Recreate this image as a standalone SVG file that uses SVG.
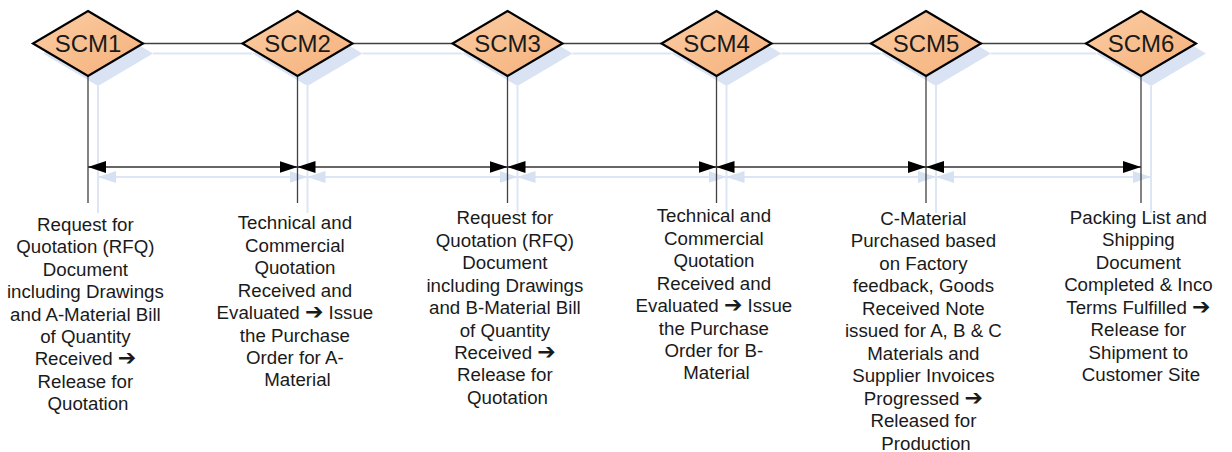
<svg xmlns="http://www.w3.org/2000/svg" width="1232" height="452" viewBox="0 0 1232 452">
  <defs>
    <linearGradient id="og" x1="0" y1="0" x2="1" y2="1">
      <stop offset="0" stop-color="#fbcda4"/>
      <stop offset="1" stop-color="#f5b07a"/>
    </linearGradient>
    <marker id="ah" markerUnits="userSpaceOnUse" markerWidth="18" markerHeight="12" refX="18" refY="6" orient="auto-start-reverse">
      <path d="M0,0 L18,6 L0,12 z" fill="#000"/>
    </marker>
    <marker id="ahs" markerUnits="userSpaceOnUse" markerWidth="18" markerHeight="12" refX="18" refY="6" orient="auto-start-reverse">
      <path d="M0,0 L18,6 L0,12 z" fill="#d6e1f2"/>
    </marker>
    <style>
      .sh { fill: #d9e3f3; }
      .shl { stroke: #dde6f4; stroke-width: 2; fill: none; }
      .ln { stroke: #404040; stroke-width: 1.3; fill: none; }
      .ar { stroke: #333; stroke-width: 1.3; fill: none; marker-start: url(#ah); marker-end: url(#ah); }
      .ars { stroke: #dde6f4; stroke-width: 2; fill: none; marker-start: url(#ahs); marker-end: url(#ahs); }
      .dm { fill: url(#og); stroke: #000; stroke-width: 2.2; stroke-linejoin: miter; }
      .lbl { font-family: "Liberation Sans", Arial, sans-serif; font-size: 24px; fill: #1a1a1a; text-anchor: middle; }
      .txt { font-family: "Liberation Sans", Arial, sans-serif; font-size: 18.7px; fill: #1a1a1a; text-anchor: middle; }
      .arw { font-family: "DejaVu Sans", sans-serif; font-weight: bold; font-size: 22px; }
    </style>
  </defs>

  <rect width="1232" height="452" fill="#fff"/>

  <g id="shadows">
    <polyline class="shl" points="153,53.5 252.5,53.5"/>
    <polyline class="shl" points="362.5,53.5 462.5,53.5"/>
    <polyline class="shl" points="572.5,53.5 671.5,53.5"/>
    <polyline class="shl" points="781.5,53.5 881,53.5"/>
    <polyline class="shl" points="991,53.5 1096,53.5"/>
    <line class="shl" x1="98" y1="86" x2="98" y2="213"/>
    <line class="shl" x1="307.5" y1="86" x2="307.5" y2="213"/>
    <line class="shl" x1="517.5" y1="86" x2="517.5" y2="213"/>
    <line class="shl" x1="726.5" y1="86" x2="726.5" y2="213"/>
    <line class="shl" x1="936" y1="86" x2="936" y2="213"/>
    <line class="shl" x1="1151" y1="86" x2="1151" y2="213"/>
    <line class="ars" x1="98" y1="177" x2="307.5" y2="177"/>
    <line class="ars" x1="307.5" y1="177" x2="517.5" y2="177"/>
    <line class="ars" x1="517.5" y1="177" x2="726.5" y2="177"/>
    <line class="ars" x1="726.5" y1="177" x2="936" y2="177"/>
    <line class="ars" x1="936" y1="177" x2="1151" y2="177"/>
    <polygon class="sh" points="98,21 153,53.5 98,86 43,53.5"/>
    <polygon class="sh" points="307.5,21 362.5,53.5 307.5,86 252.5,53.5"/>
    <polygon class="sh" points="517.5,21 572.5,53.5 517.5,86 462.5,53.5"/>
    <polygon class="sh" points="726.5,21 781.5,53.5 726.5,86 671.5,53.5"/>
    <polygon class="sh" points="936,21 991,53.5 936,86 881,53.5"/>
    <polygon class="sh" points="1151,21 1206,53.5 1151,86 1096,53.5"/>
  </g>

  <g id="connectors">
    <line class="ln" x1="143" y1="43.5" x2="242.5" y2="43.5"/>
    <line class="ln" x1="352.5" y1="43.5" x2="452.5" y2="43.5"/>
    <line class="ln" x1="562.5" y1="43.5" x2="661.5" y2="43.5"/>
    <line class="ln" x1="771.5" y1="43.5" x2="871" y2="43.5"/>
    <line class="ln" x1="981" y1="43.5" x2="1086" y2="43.5"/>
    <line class="ln" x1="88" y1="76" x2="88" y2="203"/>
    <line class="ln" x1="297.5" y1="76" x2="297.5" y2="203"/>
    <line class="ln" x1="507.5" y1="76" x2="507.5" y2="203"/>
    <line class="ln" x1="716.5" y1="76" x2="716.5" y2="203"/>
    <line class="ln" x1="926" y1="76" x2="926" y2="203"/>
    <line class="ln" x1="1141" y1="76" x2="1141" y2="203"/>
    <line class="ar" x1="88" y1="167" x2="297.5" y2="167"/>
    <line class="ar" x1="297.5" y1="167" x2="507.5" y2="167"/>
    <line class="ar" x1="507.5" y1="167" x2="716.5" y2="167"/>
    <line class="ar" x1="716.5" y1="167" x2="926" y2="167"/>
    <line class="ar" x1="926" y1="167" x2="1141" y2="167"/>
  </g>

  <g id="scm1">
    <polygon class="dm" points="88,11 143,43.5 88,76 33,43.5"/>
    <text class="lbl" x="88" y="51.5">SCM1</text>
    <text class="txt" y="230.7">
      <tspan x="88">Request for</tspan>
      <tspan x="88" dy="22.45">Quotation (RFQ)</tspan>
      <tspan x="88" dy="22.45">Document</tspan>
      <tspan x="88" dy="22.45">including Drawings</tspan>
      <tspan x="88" dy="22.45">and A-Material Bill</tspan>
      <tspan x="88" dy="22.45">of Quantity</tspan>
      <tspan x="88" dy="22.45">Received <tspan class="arw">➔</tspan></tspan>
      <tspan x="88" dy="22.45">Release for</tspan>
      <tspan x="88" dy="22.45">Quotation</tspan>
    </text>
  </g>

  <g id="scm2">
    <polygon class="dm" points="297.5,11 352.5,43.5 297.5,76 242.5,43.5"/>
    <text class="lbl" x="297.5" y="51.5">SCM2</text>
    <text class="txt" y="229.3">
      <tspan x="297.5">Technical and</tspan>
      <tspan x="297.5" dy="22.45">Commercial</tspan>
      <tspan x="297.5" dy="22.45">Quotation</tspan>
      <tspan x="297.5" dy="22.45">Received and</tspan>
      <tspan x="297.5" dy="22.45">Evaluated <tspan class="arw">➔</tspan> Issue</tspan>
      <tspan x="297.5" dy="22.45">the Purchase</tspan>
      <tspan x="297.5" dy="22.45">Order for A-</tspan>
      <tspan x="297.5" dy="22.45">Material</tspan>
    </text>
  </g>

  <g id="scm3">
    <polygon class="dm" points="507.5,11 562.5,43.5 507.5,76 452.5,43.5"/>
    <text class="lbl" x="507.5" y="51.5">SCM3</text>
    <text class="txt" y="224.3">
      <tspan x="507.5">Request for</tspan>
      <tspan x="507.5" dy="22.45">Quotation (RFQ)</tspan>
      <tspan x="507.5" dy="22.45">Document</tspan>
      <tspan x="507.5" dy="22.45">including Drawings</tspan>
      <tspan x="507.5" dy="22.45">and B-Material Bill</tspan>
      <tspan x="507.5" dy="22.45">of Quantity</tspan>
      <tspan x="507.5" dy="22.45">Received <tspan class="arw">➔</tspan></tspan>
      <tspan x="507.5" dy="22.45">Release for</tspan>
      <tspan x="507.5" dy="22.45">Quotation</tspan>
    </text>
  </g>

  <g id="scm4">
    <polygon class="dm" points="716.5,11 771.5,43.5 716.5,76 661.5,43.5"/>
    <text class="lbl" x="716.5" y="51.5">SCM4</text>
    <text class="txt" y="222.3">
      <tspan x="716.5">Technical and</tspan>
      <tspan x="716.5" dy="22.45">Commercial</tspan>
      <tspan x="716.5" dy="22.45">Quotation</tspan>
      <tspan x="716.5" dy="22.45">Received and</tspan>
      <tspan x="716.5" dy="22.45">Evaluated <tspan class="arw">➔</tspan> Issue</tspan>
      <tspan x="716.5" dy="22.45">the Purchase</tspan>
      <tspan x="716.5" dy="22.45">Order for B-</tspan>
      <tspan x="716.5" dy="22.45">Material</tspan>
    </text>
  </g>

  <g id="scm5">
    <polygon class="dm" points="926,11 981,43.5 926,76 871,43.5"/>
    <text class="lbl" x="926" y="51.5">SCM5</text>
    <text class="txt" y="225">
      <tspan x="926">C-Material</tspan>
      <tspan x="926" dy="22.45">Purchased based</tspan>
      <tspan x="926" dy="22.45">on Factory</tspan>
      <tspan x="926" dy="22.45">feedback, Goods</tspan>
      <tspan x="926" dy="22.45">Received Note</tspan>
      <tspan x="926" dy="22.45">issued for A, B &amp; C</tspan>
      <tspan x="926" dy="22.45">Materials and</tspan>
      <tspan x="926" dy="22.45">Supplier Invoices</tspan>
      <tspan x="926" dy="22.45">Progressed <tspan class="arw">➔</tspan></tspan>
      <tspan x="926" dy="22.45">Released for</tspan>
      <tspan x="926" dy="22.45">Production</tspan>
    </text>
  </g>

  <g id="scm6">
    <polygon class="dm" points="1141,11 1196,43.5 1141,76 1086,43.5"/>
    <text class="lbl" x="1141" y="51.5">SCM6</text>
    <text class="txt" y="224">
      <tspan x="1141">Packing List and</tspan>
      <tspan x="1141" dy="22.45">Shipping</tspan>
      <tspan x="1141" dy="22.45">Document</tspan>
      <tspan x="1141" dy="22.45">Completed &amp; Inco</tspan>
      <tspan x="1141" dy="22.45">Terms Fulfilled <tspan class="arw">➔</tspan></tspan>
      <tspan x="1141" dy="22.45">Release for</tspan>
      <tspan x="1141" dy="22.45">Shipment to</tspan>
      <tspan x="1141" dy="22.45">Customer Site</tspan>
    </text>
  </g>
</svg>
